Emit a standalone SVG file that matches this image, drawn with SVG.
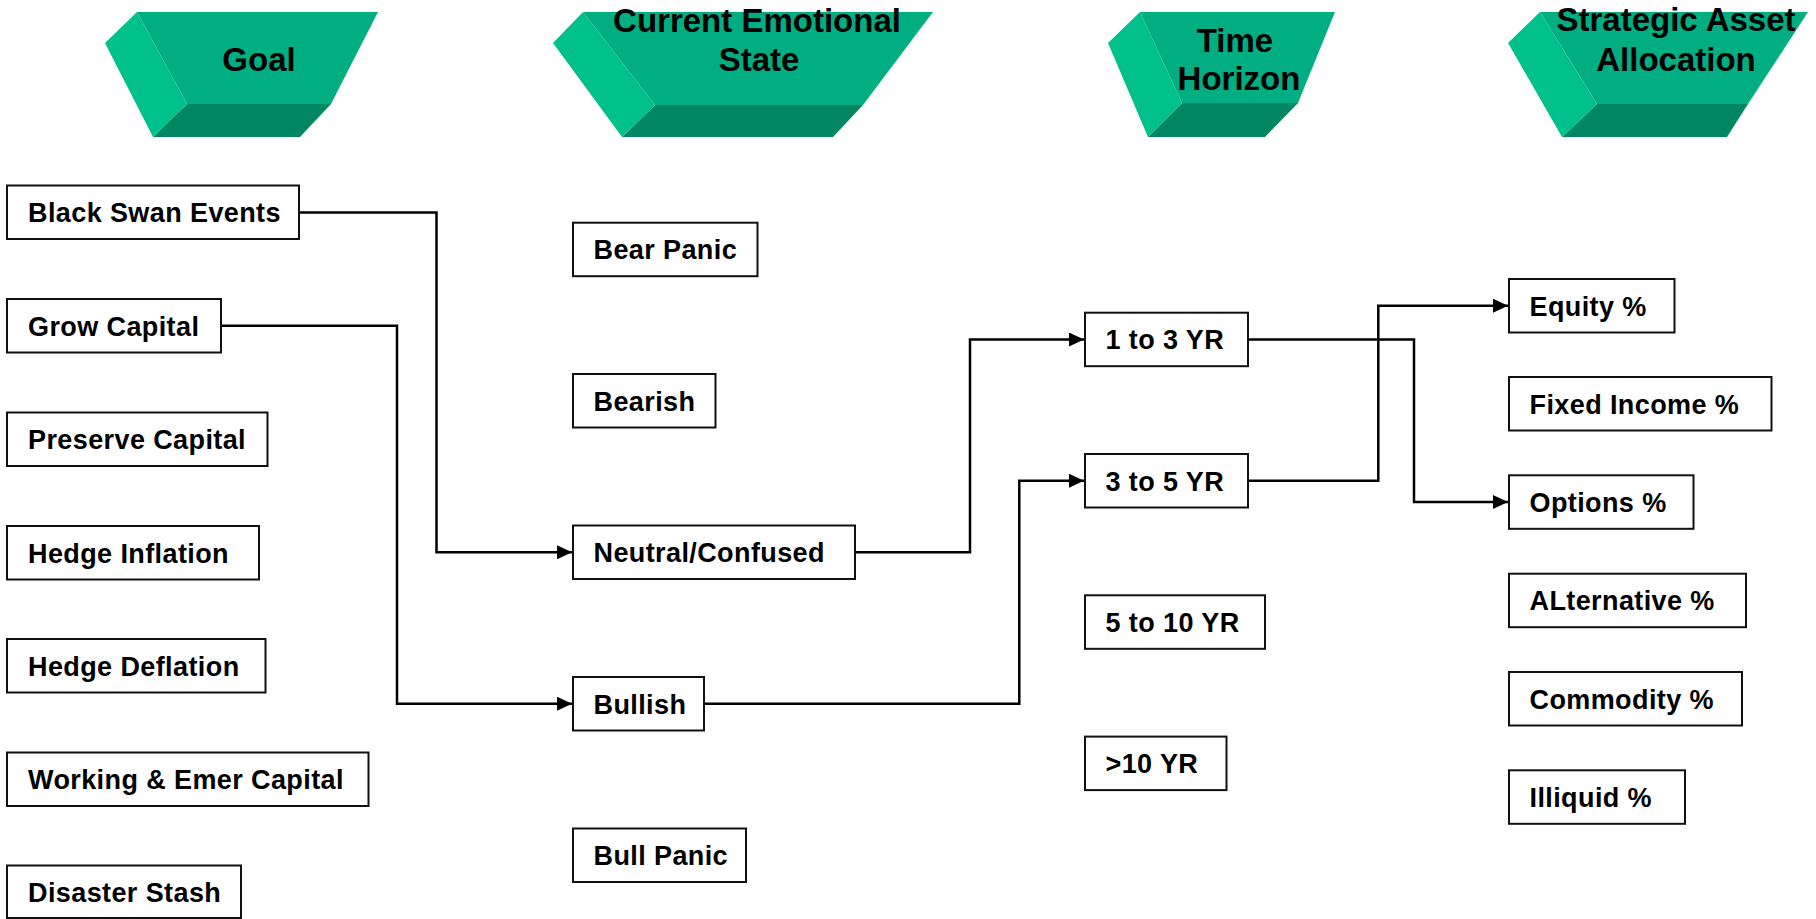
<svg xmlns="http://www.w3.org/2000/svg" width="1816" height="919" viewBox="0 0 1816 919">
<style>
.box{fill:#fff;stroke:#111;stroke-width:2}
.lbl{font-family:"Liberation Sans",Arial,sans-serif;font-weight:bold;font-size:27px;letter-spacing:0.4px;fill:#000}
.hd{font-family:"Liberation Sans",Arial,sans-serif;font-weight:bold;font-size:33px;fill:#000;text-anchor:middle}
.lf{fill:#00C08C}
.ff{fill:#00AE81}
.bf{fill:#008660}
.con{fill:none;stroke:#000;stroke-width:2.5;marker-end:url(#arr)}
</style>
<defs>
<marker id="arr" markerUnits="userSpaceOnUse" markerWidth="16" markerHeight="14" refX="15" refY="7" orient="auto">
<path d="M0,0 L15,7 L0,14 Z" fill="#000"/>
</marker>
</defs>
<rect width="1816" height="919" fill="#fff"/>

<g id="hdr-goal">
<polygon class="ff" points="137,12 378,12 331,104 187,104"/>
<polygon class="bf" points="187,104 331,104 300,137 153,137"/>
<polygon class="lf" points="105,43 137,12 187,104 153,137"/>
<text class="hd" x="259" y="71">Goal</text>
</g>
<g id="hdr-emotion">
<polygon class="ff" points="583,12 933,12 863,105 655,105"/>
<polygon class="bf" points="655,105 863,105 833,137 622,137"/>
<polygon class="lf" points="553,43 583,12 655,105 622,137"/>
<text class="hd" x="757" y="32">Current Emotional</text>
<text class="hd" x="759" y="71">State</text>
</g>
<g id="hdr-time">
<polygon class="ff" points="1140,12 1335,12 1298,103 1182,103"/>
<polygon class="bf" points="1182,103 1298,103 1265,137 1148,137"/>
<polygon class="lf" points="1108,43 1140,12 1182,103 1148,137"/>
<text class="hd" x="1235" y="52">Time</text>
<text class="hd" x="1239" y="90">Horizon</text>
</g>
<g id="hdr-alloc">
<polygon class="ff" points="1540,12 1808,12 1748,104 1597,104"/>
<polygon class="bf" points="1597,104 1748,104 1727,137 1562,137"/>
<polygon class="lf" points="1508,43 1540,12 1597,104 1562,137"/>
<text class="hd" x="1676" y="31">Strategic Asset</text>
<text class="hd" x="1676" y="71">Allocation</text>
</g>

<g id="connectors">
<polyline class="con" points="299,212.5 436.5,212.5 436.5,552.3 572,552.3"/>
<polyline class="con" points="221,325.7 397,325.7 397,703.7 572,703.7"/>
<polyline class="con" points="855,552.3 970,552.3 970,339.5 1084,339.5"/>
<polyline class="con" points="704,703.7 1019.3,703.7 1019.3,480.7 1084,480.7"/>
<polyline class="con" points="1248,339.5 1414,339.5 1414,502 1508,502"/>
<polyline class="con" points="1248,480.7 1378.3,480.7 1378.3,305.7 1508,305.7"/>
</g>

<g id="goal-black-swan"><rect class="box" x="7" y="185.5" width="292" height="53.5"/><text class="lbl" x="28" y="222">Black Swan Events</text></g>
<g id="goal-grow"><rect class="box" x="7" y="299" width="214" height="53.5"/><text class="lbl" x="28" y="335.5">Grow Capital</text></g>
<g id="goal-preserve"><rect class="box" x="7" y="412.5" width="260.5" height="53.5"/><text class="lbl" x="28" y="449">Preserve Capital</text></g>
<g id="goal-hedge-inflation"><rect class="box" x="7" y="526" width="252" height="53.5"/><text class="lbl" x="28" y="562.5">Hedge Inflation</text></g>
<g id="goal-hedge-deflation"><rect class="box" x="7" y="639" width="258.5" height="53.5"/><text class="lbl" x="28" y="675.5">Hedge Deflation</text></g>
<g id="goal-working"><rect class="box" x="7" y="752.5" width="361.5" height="53.5"/><text class="lbl" x="28" y="789">Working &amp; Emer Capital</text></g>
<g id="goal-disaster"><rect class="box" x="7" y="865.5" width="234" height="52.5"/><text class="lbl" x="28" y="902">Disaster Stash</text></g>

<g id="emo-bear-panic"><rect class="box" x="573" y="222.7" width="184.5" height="53.5"/><text class="lbl" x="593.5" y="259.2">Bear Panic</text></g>
<g id="emo-bearish"><rect class="box" x="573" y="374" width="142.5" height="53.5"/><text class="lbl" x="593.5" y="410.5">Bearish</text></g>
<g id="emo-neutral"><rect class="box" x="573" y="525.5" width="282" height="53.5"/><text class="lbl" x="593.5" y="562">Neutral/Confused</text></g>
<g id="emo-bullish"><rect class="box" x="573" y="677" width="131" height="53.5"/><text class="lbl" x="593.5" y="713.5">Bullish</text></g>
<g id="emo-bull-panic"><rect class="box" x="573" y="828.5" width="173" height="53.5"/><text class="lbl" x="593.5" y="865">Bull Panic</text></g>

<g id="time-1-3"><rect class="box" x="1085" y="312.7" width="163" height="53.5"/><text class="lbl" x="1105.5" y="349.2">1 to 3 YR</text></g>
<g id="time-3-5"><rect class="box" x="1085" y="454" width="163" height="53.5"/><text class="lbl" x="1105.5" y="490.5">3 to 5 YR</text></g>
<g id="time-5-10"><rect class="box" x="1085" y="595.3" width="180" height="53.5"/><text class="lbl" x="1105.5" y="631.8">5 to 10 YR</text></g>
<g id="time-10"><rect class="box" x="1085" y="736.6" width="141.5" height="53.5"/><text class="lbl" x="1105.5" y="773.1">&gt;10 YR</text></g>

<g id="alloc-equity"><rect class="box" x="1509" y="279" width="165.5" height="53.5"/><text class="lbl" x="1529.5" y="315.5">Equity %</text></g>
<g id="alloc-fixed"><rect class="box" x="1509" y="377" width="262.5" height="53.5"/><text class="lbl" x="1529.5" y="413.5">Fixed Income %</text></g>
<g id="alloc-options"><rect class="box" x="1509" y="475.3" width="184.5" height="53.5"/><text class="lbl" x="1529.5" y="511.8">Options %</text></g>
<g id="alloc-alternative"><rect class="box" x="1509" y="573.7" width="237" height="53.5"/><text class="lbl" x="1529.5" y="610.2">ALternative %</text></g>
<g id="alloc-commodity"><rect class="box" x="1509" y="672" width="233" height="53.5"/><text class="lbl" x="1529.5" y="708.5">Commodity %</text></g>
<g id="alloc-illiquid"><rect class="box" x="1509" y="770.3" width="176" height="53.5"/><text class="lbl" x="1529.5" y="806.8">Illiquid %</text></g>
</svg>
